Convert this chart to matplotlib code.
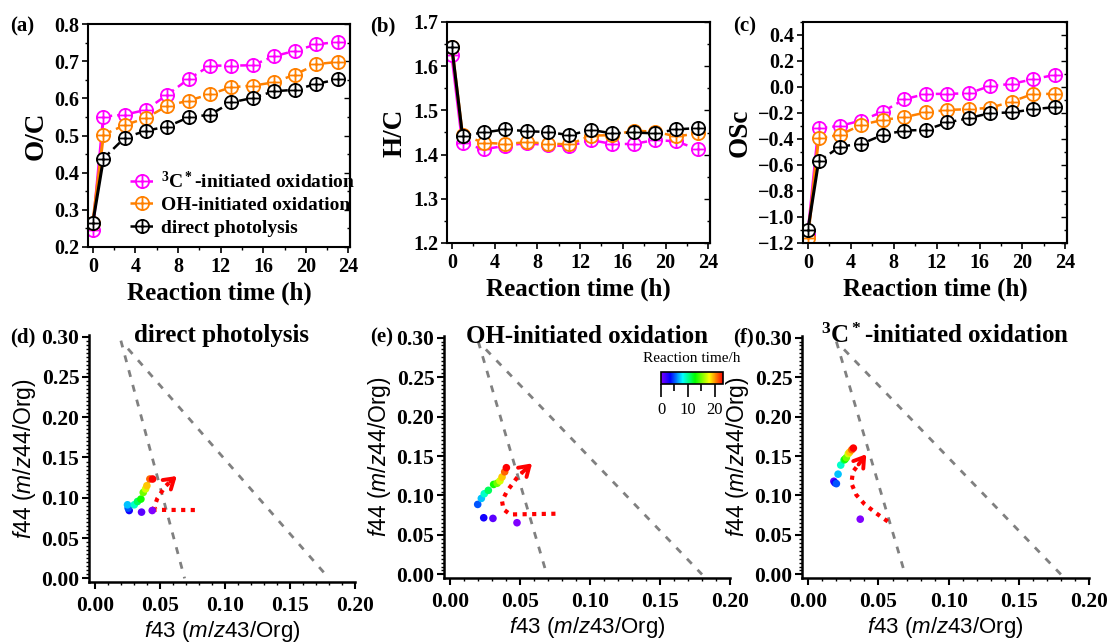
import numpy as np
import matplotlib
matplotlib.use("Agg")
import matplotlib.pyplot as plt
from matplotlib.path import Path
from matplotlib.lines import Line2D
from matplotlib.ticker import MultipleLocator, FormatStrFormatter
from matplotlib.colors import LinearSegmentedColormap, Normalize
from matplotlib.colorbar import ColorbarBase

plt.rcParams['font.family'] = ['Liberation Serif', 'DejaVu Serif']
plt.rcParams['axes.labelweight'] = 'bold'
plt.rcParams['mathtext.fontset'] = 'custom'
plt.rcParams['mathtext.rm'] = 'Liberation Sans'
plt.rcParams['mathtext.it'] = 'Liberation Sans:italic'
plt.rcParams['mathtext.bf'] = 'Liberation Serif:bold'

# reaction time (h)
time_h = [0, 1, 3, 5, 7, 9, 11, 13, 15, 17, 19, 21, 23]

# series names / colours
labels = [r"$\mathbf{^3C^*}$-initiated oxidation", "OH-initiated oxidation", "direct photolysis"]
colors = ["#ff00ff", "#ff8000", "#000000"]

# O/C
oc_3c = [0.247, 0.551, 0.556, 0.569, 0.610, 0.652, 0.688, 0.688, 0.689, 0.713, 0.728, 0.745, 0.752]
oc_oh = [0.265, 0.502, 0.528, 0.547, 0.580, 0.594, 0.611, 0.630, 0.634, 0.643, 0.664, 0.692, 0.698]
oc_dp = [0.265, 0.438, 0.494, 0.513, 0.524, 0.549, 0.556, 0.589, 0.601, 0.619, 0.623, 0.639, 0.651]

# H/C
hc_3c = [1.625, 1.426, 1.412, 1.420, 1.426, 1.421, 1.419, 1.433, 1.424, 1.424, 1.433, 1.430, 1.412]
hc_oh = [1.644, 1.444, 1.427, 1.424, 1.428, 1.425, 1.423, 1.443, 1.444, 1.454, 1.452, 1.441, 1.448]
hc_dp = [1.644, 1.443, 1.450, 1.457, 1.453, 1.451, 1.444, 1.456, 1.448, 1.450, 1.448, 1.457, 1.460]

# OSc
os_3c = [-1.136, -0.317, -0.299, -0.258, -0.189, -0.094, -0.053, -0.053, -0.048, 0.008, 0.024, 0.060, 0.093]
os_oh = [-1.162, -0.394, -0.368, -0.291, -0.253, -0.232, -0.196, -0.176, -0.171, -0.160, -0.112, -0.053, -0.053]
os_dp = [-1.103, -0.573, -0.458, -0.437, -0.368, -0.335, -0.330, -0.273, -0.240, -0.200, -0.196, -0.171, -0.155]

# f43 / f44 triangle plots
f43_dp = [0.0441, 0.0359, 0.0264, 0.0256, 0.0251, 0.0303, 0.0328, 0.0354, 0.0372, 0.0390, 0.0400, 0.0423, 0.0444]
f44_dp = [0.0842, 0.0822, 0.0842, 0.0872, 0.0913, 0.0913, 0.0954, 0.0984, 0.1066, 0.1110, 0.1150, 0.1233, 0.1233]
f43_oh = [0.0477, 0.0305, 0.0239, 0.0196, 0.0222, 0.0243, 0.0272, 0.0310, 0.0335, 0.0355, 0.0370, 0.0389, 0.0401]
f44_oh = [0.0655, 0.0710, 0.0718, 0.0887, 0.0963, 0.1022, 0.1065, 0.1140, 0.1155, 0.1185, 0.1234, 0.1300, 0.1352]
f43_3c = [0.0370, 0.0182, 0.0190, 0.0200, 0.0212, 0.0231, 0.0255, 0.0262, 0.0271, 0.0285, 0.0295, 0.0310, 0.0321]
f44_3c = [0.0700, 0.1180, 0.1160, 0.1150, 0.1270, 0.1385, 0.1450, 0.1460, 0.1480, 0.1530, 0.1550, 0.1580, 0.1600]

# hand-drawn trend arrows (f43, f44)
arrow_dp_x = [0.0769, 0.0470, 0.0455, 0.0480, 0.0540, 0.0580]
arrow_dp_y = [0.0848, 0.0850, 0.0880, 0.0990, 0.1140, 0.1200]
arrow_dp_tip = (0.0630, 0.1270)
arrow_oh_x = [0.0752, 0.0430, 0.0380, 0.0370, 0.0406, 0.0477, 0.0513]
arrow_oh_y = [0.0769, 0.0760, 0.0824, 0.0930, 0.1056, 0.1225, 0.1290]
arrow_oh_tip = (0.0585, 0.1407)
arrow_3c_x = [0.0566, 0.0483, 0.0401, 0.0342, 0.0307, 0.0318, 0.0358]
arrow_3c_y = [0.0671, 0.0776, 0.0890, 0.1007, 0.1154, 0.1301, 0.1393]
arrow_3c_tip = (0.0413, 0.1523)

W, H = 1110, 644
fig = plt.figure(figsize=(W / 100, H / 100), dpi=100)


def box(l, r, t, b):
    return [l / W, 1 - b / H, (r - l) / W, (b - t) / H]


def bold_ticks(ax):
    for lab in ax.get_xticklabels() + ax.get_yticklabels():
        lab.set_fontweight('bold')


# circle-plus marker
plus = Path([[-1, 0], [1, 0], [0, -1], [0, 1]],
            [Path.MOVETO, Path.LINETO, Path.MOVETO, Path.LINETO])
oplus = Path.make_compound_path(Path.unit_circle(), plus)


def top_panel(pos, series, ylab, ylim, major, minor, tag, tagx):
    ax = fig.add_axes(box(*pos))
    for vals, c in zip(series, colors):
        ax.plot(time_h[:2], vals[:2], '-', color=c, lw=2.2)
        ax.plot(time_h[1:], vals[1:], color=c, lw=1.8, dashes=(3.5, 2))
        ax.plot(time_h, vals, ls='none', marker=oplus, ms=9.5, mfc='white', mec=c, mew=1.3)
    ax.set_xlim(-0.45, 24.15)
    ax.set_ylim(*ylim)
    ax.xaxis.set_major_locator(MultipleLocator(4))
    ax.xaxis.set_minor_locator(MultipleLocator(2))
    ax.yaxis.set_major_locator(MultipleLocator(major))
    ax.yaxis.set_minor_locator(MultipleLocator(minor))
    ax.tick_params(which='major', direction='out', length=4, width=1.2, labelsize=14.5)
    ax.tick_params(which='minor', direction='out', length=2.5, width=1.0)
    ax.tick_params(axis='y', pad=2)
    sec = ax.secondary_yaxis('right')
    sec.yaxis.set_major_locator(MultipleLocator(major))
    sec.yaxis.set_minor_locator(MultipleLocator(minor))
    sec.tick_params(which='both', direction='in', labelright=False, width=1.0)
    sec.tick_params(which='major', length=4)
    sec.tick_params(which='minor', length=2.5)
    for s in ax.spines.values():
        s.set_linewidth(1.5)
    sec.spines['right'].set_linewidth(1.5)
    ax.set_xlabel('Reaction time (h)', fontsize=18, labelpad=3)
    ax.set_ylabel(ylab, fontsize=19.5, labelpad=4)
    bold_ticks(ax)
    fig.text(tagx / W, 1 - 31 / H, tag, fontsize=15, fontweight='bold', ha='left', va='baseline')
    return ax


ax_a = top_panel((88, 350, 24, 247), [oc_3c, oc_oh, oc_dp], 'O/C', (0.2, 0.8), 0.1, 0.05, '(a)', 10)
ax_b = top_panel((447, 710, 22, 243), [hc_3c, hc_oh, hc_dp], 'H/C', (1.2, 1.7), 0.1, 0.05, '(b)', 370)
ax_c = top_panel((803, 1067, 22, 243), [os_3c, os_oh, os_dp], 'OSc', (-1.2, 0.5), 0.2, 0.1, '(c)', 733)

handles = [Line2D([], [], color=c, lw=1.8, dashes=(2, 1.5), marker=oplus, ms=9.5,
                  mfc='white', mec=c, mew=1.3) for c in colors]
ax_a.legend(handles, labels, loc='lower right', frameon=False,
            prop={'size': 14, 'weight': 'bold'},
            handlelength=1.3, handletextpad=0.3, labelspacing=0.25,
            borderaxespad=0.3, bbox_to_anchor=(1.07, -0.015))

cmap = LinearSegmentedColormap.from_list(
    'origin_rainbow',
    [(0.0, '#8000ff'), (0.15, '#0000ff'), (0.35, '#00ffff'), (0.55, '#00ff00'),
     (0.78, '#ffff00'), (1.0, '#ff0000')])
norm = Normalize(0, 23)


def bottom_panel(pos, f43, f44, ax_x, ax_y, tip, title, tag, tagx):
    ax = fig.add_axes(box(*pos))
    # Ng et al. triangle
    yl = np.array([0.295, 0.0])
    ax.plot((0.4154 - yl) / 6.0204, yl, color='#808080', lw=2, dashes=(2.5, 3))
    yr = np.array([0.285, 0.0])
    ax.plot((0.3319 - yr) / 1.8438, yr, color='#808080', lw=2, dashes=(2.5, 3))
    ax.plot(ax_x, ax_y, color='red', lw=3, dashes=(1, 1.3))
    ax.annotate('', xy=tip, xytext=(ax_x[-1], ax_y[-1]),
                arrowprops=dict(arrowstyle='->,head_length=0.7,head_width=0.45',
                                color='red', lw=2.8, shrinkA=0, shrinkB=0))
    ax.scatter(f43, f44, c=time_h, cmap=cmap, norm=norm, s=30, linewidths=0, zorder=3)
    ax.set_xlim(-0.0045, 0.2)
    ax.set_ylim(-0.0045, 0.302)
    ax.spines['top'].set_visible(False)
    ax.spines['right'].set_visible(False)
    ax.spines['left'].set_linewidth(1.8)
    ax.spines['bottom'].set_linewidth(1.8)
    ax.xaxis.set_major_locator(MultipleLocator(0.05))
    ax.xaxis.set_minor_locator(MultipleLocator(0.01))
    ax.yaxis.set_major_locator(MultipleLocator(0.05))
    ax.yaxis.set_minor_locator(MultipleLocator(0.005))
    ax.xaxis.set_major_formatter(FormatStrFormatter('%.2f'))
    ax.yaxis.set_major_formatter(FormatStrFormatter('%.2f'))
    ax.tick_params(which='major', direction='out', length=5, width=1.5, labelsize=15.5)
    ax.tick_params(which='minor', direction='out', length=2.5, width=1.0)
    ax.tick_params(axis='x', pad=5)
    ax.tick_params(axis='y', pad=2)
    ax.set_xlabel(r'$\it{f}$43 ($\it{m/z}$43/Org)', fontsize=16, fontweight='normal',
                  family='Liberation Sans', labelpad=2)
    ax.set_ylabel(r'$\it{f}$44 ($\it{m/z}$44/Org)', fontsize=16.5, fontweight='normal',
                  family='Liberation Sans', labelpad=2)
    bold_ticks(ax)
    ax.text(0.5, 0.972, title, transform=ax.transAxes, ha='center', va='baseline',
            fontsize=18, fontweight='bold')
    fig.text(tagx / W, 1 - 342 / H, tag, fontsize=15, fontweight='bold', ha='left', va='baseline')
    return ax


ax_d = bottom_panel((89, 355, 335, 582), f43_dp, f44_dp, arrow_dp_x, arrow_dp_y, arrow_dp_tip,
                    'direct photolysis', '(d)', 10)
ax_e = bottom_panel((444, 730, 336, 578), f43_oh, f44_oh, arrow_oh_x, arrow_oh_y, arrow_oh_tip,
                    'OH-initiated oxidation', '(e)', 370)
ax_f = bottom_panel((802, 1089, 336, 578), f43_3c, f44_3c, arrow_3c_x, arrow_3c_y, arrow_3c_tip,
                    r"$\mathbf{^3C^*}$-initiated oxidation", '(f)', 733)

# colour bar for reaction time
cax = fig.add_axes(box(661, 723, 372, 384))
cb = ColorbarBase(cax, cmap=cmap, norm=norm, orientation='horizontal', ticks=[0, 10, 20])
cb.ax.xaxis.set_minor_locator(MultipleLocator(5))
cb.outline.set_linewidth(1.2)
cax.tick_params(which='major', length=9, width=1.2, labelsize=12, pad=4)
cax.tick_params(which='minor', length=5, width=1.2)
cax.set_title('Reaction time/h', fontsize=11, pad=7)

fig.savefig('out.png', dpi=100)
